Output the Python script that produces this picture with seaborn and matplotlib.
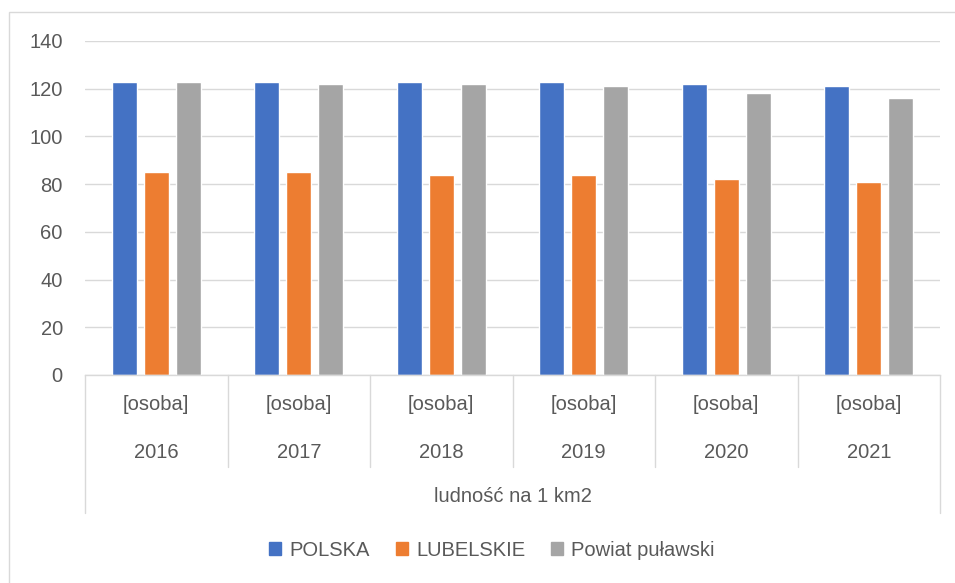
import matplotlib
matplotlib.use("Agg")
import matplotlib.pyplot as plt
import matplotlib.patches as mpatches
import seaborn as sns
import pandas as pd

years = ["2016", "2017", "2018", "2019", "2020", "2021"]
unit_label = "[osoba]"
group_label = "ludność na 1 km2"
series_names = ["POLSKA", "LUBELSKIE", "Powiat puławski"]
polska = [123, 123, 123, 123, 122, 121]
lubelskie = [85, 85, 84, 84, 82, 81]
pulawski = [123, 122, 122, 121, 118, 116]
colors = ["#4472C4", "#ED7D31", "#A5A5A5"]

rows = []
for name, vals in zip(series_names, [polska, lubelskie, pulawski]):
    for y, v in zip(years, vals):
        rows.append({"year": y, "series": name, "value": v})
df = pd.DataFrame(rows)

sns.set_theme(style="white")
plt.rcParams['font.family'] = ['Liberation Sans', 'DejaVu Sans']
txt = "#595959"
fs = 14.5

fig = plt.figure(figsize=(9.55, 5.83), dpi=100)
W, H = 955, 583
ax = fig.add_axes([85 / W, 1 - 375 / H, 855 / W, 334 / H])

sns.barplot(data=df, x="year", y="value", hue="series", order=years,
            hue_order=series_names, palette=colors, width=0.674, gap=0.22,
            ax=ax, legend=False, saturation=1)

ax.set_xlim(-0.5, len(years) - 0.5)
ax.set_ylim(0, 140)
ax.set_yticks(range(0, 141, 20))
ax.tick_params(axis='y', labelsize=fs, colors=txt, length=0, pad=16)
ax.set_xticks([])
ax.set_xlabel("")
ax.set_ylabel("")
ax.yaxis.grid(True, color="#D9D9D9", linewidth=1)
ax.set_axisbelow(True)
for s in ["top", "right", "left"]:
    ax.spines[s].set_visible(False)
ax.spines["bottom"].set_color("#D9D9D9")
ax.spines["bottom"].set_linewidth(1)

trans = ax.get_xaxis_transform()
inner_y = (375 - 467) / 334
outer_y = (375 - 513) / 334
for i in range(len(years) + 1):
    xb = i - 0.5
    yb = outer_y if i in (0, len(years)) else inner_y
    ax.plot([xb, xb], [0, yb], transform=trans, color="#D9D9D9",
            linewidth=1, clip_on=False)
for i, y in enumerate(years):
    ax.text(i, (375 - 405) / 334, unit_label, transform=trans, ha="center",
            va="center", fontsize=fs, color=txt)
    ax.text(i, (375 - 452) / 334, y, transform=trans, ha="center",
            va="center", fontsize=fs, color=txt)
ax.text((len(years) - 1) / 2, (375 - 497) / 334, group_label, transform=trans,
        ha="center", va="center", fontsize=fs, color=txt)

handles = [mpatches.Patch(color=c, label=n) for c, n in zip(colors, series_names)]
fig.legend(handles=handles, loc="center", bbox_to_anchor=(492 / W, 1 - 550 / H),
           ncol=3, frameon=False, fontsize=fs, labelcolor=txt,
           handlelength=0.6, handleheight=0.6, handletextpad=0.4, columnspacing=1.3)

border = mpatches.Rectangle((9 / W, -0.05), 1.1, 1 - 12 / H + 0.05,
                            transform=fig.transFigure, fill=False,
                            edgecolor="#D9D9D9", linewidth=1)
fig.patches.append(border)

fig.savefig("out.png", dpi=100)
